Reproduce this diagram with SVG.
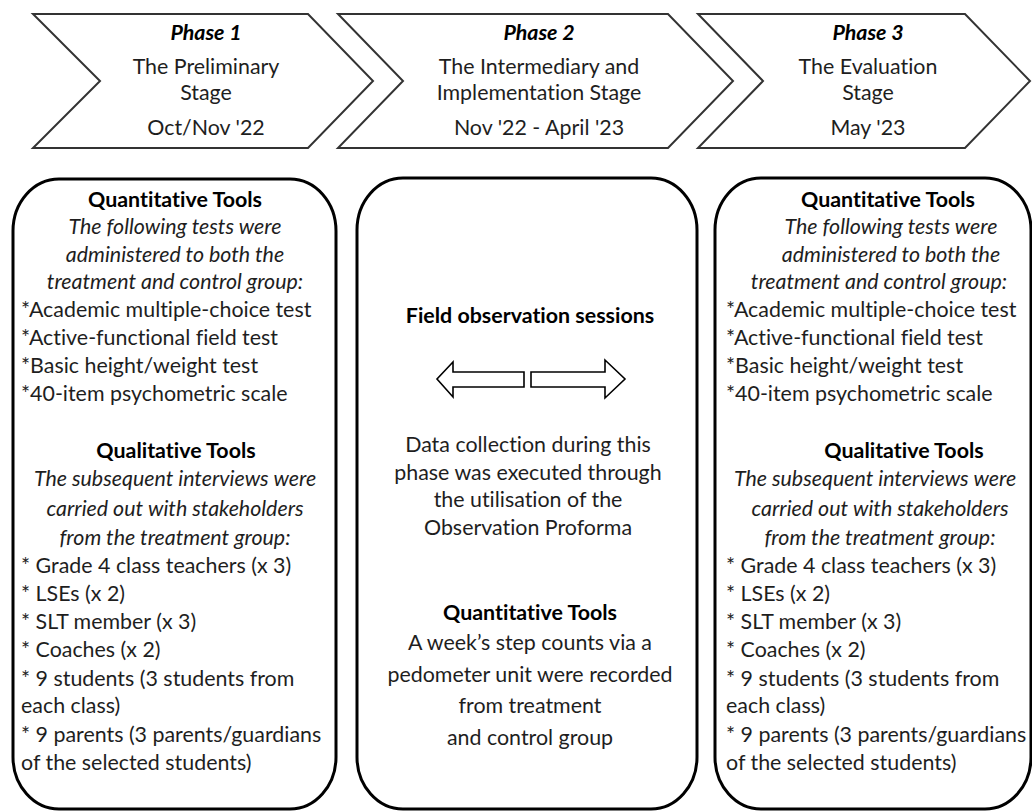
<svg xmlns="http://www.w3.org/2000/svg" width="1032" height="812" viewBox="0 0 1032 812">
<style>
.chev{fill:#fff;stroke:#333;stroke-width:2;stroke-linejoin:miter}
.box{fill:#fff;stroke:#000;stroke-width:3}
.arr{fill:#fff;stroke:#000;stroke-width:1.6;stroke-linejoin:miter}
text{font-family:Lato,"Open Sans",sans-serif;font-size:21.4px;fill:#1e1e1e;font-variant-ligatures:none}
.c{text-anchor:middle}
.b{font-weight:bold;fill:#000}
.i{font-style:italic}
.bi{font-weight:bold;font-style:italic;fill:#000}
</style>
<rect width="1032" height="812" fill="#fff"/>
<g id="phase1">
<polygon class="chev" points="33,14 308,14 373,81 308,148 33,148 100,81"/>
<text class="c bi" x="206" y="40">Phase 1</text>
<text class="c" x="206" y="74">The Preliminary</text>
<text class="c" x="206" y="100">Stage</text>
<text class="c" x="206" y="135">Oct/Nov '22</text>
</g>
<g id="phase2">
<polygon class="chev" points="338,14 668,14 733,81 668,148 338,148 403,81"/>
<text class="c bi" x="539" y="40">Phase 2</text>
<text class="c" x="539" y="74">The Intermediary and</text>
<text class="c" x="539" y="100">Implementation Stage</text>
<text class="c" x="539" y="135">Nov '22 - April '23</text>
</g>
<g id="phase3">
<polygon class="chev" points="698,14 965,14 1030,81 965,148 698,148 763,81"/>
<text class="c bi" x="868" y="40">Phase 3</text>
<text class="c" x="868" y="74">The Evaluation</text>
<text class="c" x="868" y="100">Stage</text>
<text class="c" x="868" y="135">May '23</text>
</g>
<g id="box1">
<rect class="box" x="13" y="179" width="323" height="630" rx="46" ry="52"/>
<text class="c b" x="175" y="207">Quantitative Tools</text>
<text class="c i" x="175" y="234">The following tests were</text>
<text class="c i" x="175" y="262">administered to both the</text>
<text class="c i" x="175" y="289">treatment and control group:</text>
<text x="21" y="317">*Academic multiple-choice test</text>
<text x="21" y="345">*Active-functional field test</text>
<text x="21" y="373">*Basic height/weight test</text>
<text x="21" y="401">*40-item psychometric scale</text>
<text class="c b" x="176" y="458">Qualitative Tools</text>
<text class="c i" x="175" y="486">The subsequent interviews were</text>
<text class="c i" x="175" y="516">carried out with stakeholders</text>
<text class="c i" x="175" y="545">from the treatment group:</text>
<text x="21" y="573">* Grade 4 class teachers (x 3)</text>
<text x="21" y="601">* LSEs (x 2)</text>
<text x="21" y="629">* SLT member (x 3)</text>
<text x="21" y="657">* Coaches (x 2)</text>
<text x="21" y="686">* 9 students (3 students from</text>
<text x="21" y="713">each class)</text>
<text x="21" y="742">* 9 parents (3 parents/guardians</text>
<text x="21" y="770">of the selected students)</text>
</g>
<g id="box2">
<rect class="box" x="357" y="178" width="340" height="631" rx="46" ry="52"/>
<text class="c b" x="530" y="323">Field observation sessions</text>
<text class="c" x="528" y="452">Data collection during this</text>
<text class="c" x="528" y="480">phase was executed through</text>
<text class="c" x="528" y="507">the utilisation of the</text>
<text class="c" x="528" y="535">Observation Proforma</text>
<text class="c b" x="530" y="620">Quantitative Tools</text>
<text class="c" x="530" y="650">A week’s step counts via a</text>
<text class="c" x="530" y="682">pedometer unit were recorded</text>
<text class="c" x="530" y="713">from treatment</text>
<text class="c" x="530" y="745">and control group</text>
</g>
<g id="connectors">
<polygon class="arr" points="524,372 453,372 453,362 437,379 453,397 453,387 524,387"/>
<polygon class="arr" points="531,372 605,372 605,360 625,379 605,398 605,387 531,387"/>
</g>
<g id="box3">
<rect class="box" x="715" y="178" width="316" height="631" rx="46" ry="52"/>
<text class="c b" x="888" y="207">Quantitative Tools</text>
<text class="c i" x="891" y="234">The following tests were</text>
<text class="c i" x="891" y="262">administered to both the</text>
<text class="c i" x="879" y="289">treatment and control group:</text>
<text x="726" y="317">*Academic multiple-choice test</text>
<text x="726" y="345">*Active-functional field test</text>
<text x="726" y="373">*Basic height/weight test</text>
<text x="726" y="401">*40-item psychometric scale</text>
<text class="c b" x="904" y="458">Qualitative Tools</text>
<text class="c i" x="875" y="486">The subsequent interviews were</text>
<text class="c i" x="880" y="516">carried out with stakeholders</text>
<text class="c i" x="880" y="545">from the treatment group:</text>
<text x="726" y="573">* Grade 4 class teachers (x 3)</text>
<text x="726" y="601">* LSEs (x 2)</text>
<text x="726" y="629">* SLT member (x 3)</text>
<text x="726" y="657">* Coaches (x 2)</text>
<text x="726" y="686">* 9 students (3 students from</text>
<text x="726" y="713">each class)</text>
<text x="726" y="742">* 9 parents (3 parents/guardians</text>
<text x="726" y="770">of the selected students)</text>
</g>
</svg>
